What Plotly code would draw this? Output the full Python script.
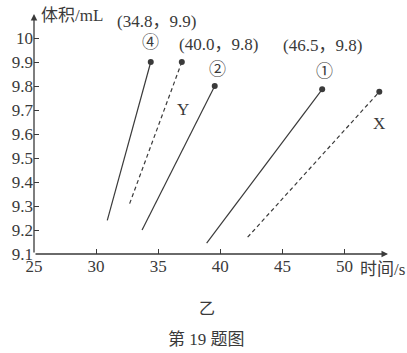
import plotly.graph_objects as go

# ---- data ----
x_ticks = [25, 30, 35, 40, 45, 50]
y_ticks = [9.1, 9.2, 9.3, 9.4, 9.5, 9.6, 9.7, 9.8, 9.9, 10.0]
y_tick_text = ["9.1", "9.2", "9.3", "9.4", "9.5", "9.6", "9.7", "9.8", "9.9", "10"]

line4_x = [30.9, 34.4]
line4_y = [9.24, 9.90]
lineY_x = [32.7, 36.9]
lineY_y = [9.31, 9.90]
line2_x = [33.7, 39.55]
line2_y = [9.20, 9.80]
line1_x = [38.9, 48.2]
line1_y = [9.145, 9.786]
lineX_x = [42.2, 52.8]
lineX_y = [9.17, 9.776]

INK = "#3a3a3a"
SERIF = "Liberation Serif, Noto Sans CJK SC, serif"
CJK = "Noto Sans CJK SC, sans-serif"

fig = go.Figure()

def add_line(xs, ys, dash):
    fig.add_trace(go.Scatter(
        x=xs, y=ys, mode="lines",
        line=dict(color=INK, width=1.2, dash=dash),
        showlegend=False, hoverinfo="skip"))
    fig.add_trace(go.Scatter(
        x=[xs[-1]], y=[ys[-1]], mode="markers",
        marker=dict(color=INK, size=6),
        showlegend=False, hoverinfo="skip"))

add_line(line4_x, line4_y, "solid")
add_line(lineY_x, lineY_y, "4px,3px")
add_line(line2_x, line2_y, "solid")
add_line(line1_x, line1_y, "solid")
add_line(lineX_x, lineX_y, "4px,3px")

ann = []
def txt(x, y, t, size=17, font=SERIF, xanchor="center"):
    ann.append(dict(x=x, y=y, xref="x", yref="y", text=t, showarrow=False,
                    xanchor=xanchor, yanchor="middle",
                    font=dict(family=font, size=size, color=INK)))

def ptxt(x, y, t, size=17, font=SERIF, xanchor="center"):
    ann.append(dict(x=x, y=y, xref="paper", yref="paper", text=t, showarrow=False,
                    xanchor=xanchor, yanchor="middle",
                    font=dict(family=font, size=size, color=INK)))

txt(34.83, 10.067, "(34.8，9.9)")
txt(34.35, 9.98, "④", size=17)
txt(39.85, 9.975, "(40.0，9.8)")
txt(39.77, 9.867, "②", size=17)
txt(48.2, 9.967, "(46.5，9.8)")
txt(48.37, 9.862, "①", size=17)
txt(36.98, 9.704, "Y")
txt(52.75, 9.642, "X")
txt(25.44, 10.092, "体积/mL", xanchor="left")
ptxt(0.915, -0.0625, "时间/s", xanchor="left")
ptxt(0.49, -0.22, "乙", size=16, font=CJK)
ptxt(0.487, -0.358, "第 19 题图", size=17)

# axis arrows
ann.append(dict(x=53.5, y=9.1, ax=25, ay=9.1, xref="x", yref="y", axref="x", ayref="y",
                showarrow=True, arrowhead=2, arrowsize=1, arrowwidth=1.3,
                arrowcolor=INK, text="", standoff=0))
ann.append(dict(x=25, y=10.1, ax=25, ay=9.1, xref="x", yref="y", axref="x", ayref="y",
                showarrow=True, arrowhead=2, arrowsize=1, arrowwidth=1.3,
                arrowcolor=INK, text="", standoff=0))

fig.update_layout(
    width=407, height=353,
    margin=dict(l=29, r=19, t=14, b=99),
    paper_bgcolor="white", plot_bgcolor="white",
    annotations=ann,
    xaxis=dict(range=[25, 53.5], tickvals=x_ticks, ticks="inside", ticklen=5,
               tickcolor=INK, showgrid=False, zeroline=False, showline=False,
               tickfont=dict(family=SERIF, size=17, color=INK)),
    yaxis=dict(range=[9.1, 10.1], tickvals=y_ticks, ticktext=y_tick_text,
               ticks="inside", ticklen=5, tickcolor=INK, showgrid=False,
               zeroline=False, showline=False,
               tickfont=dict(family=SERIF, size=17, color=INK)),
)

fig.write_html("out.html")
